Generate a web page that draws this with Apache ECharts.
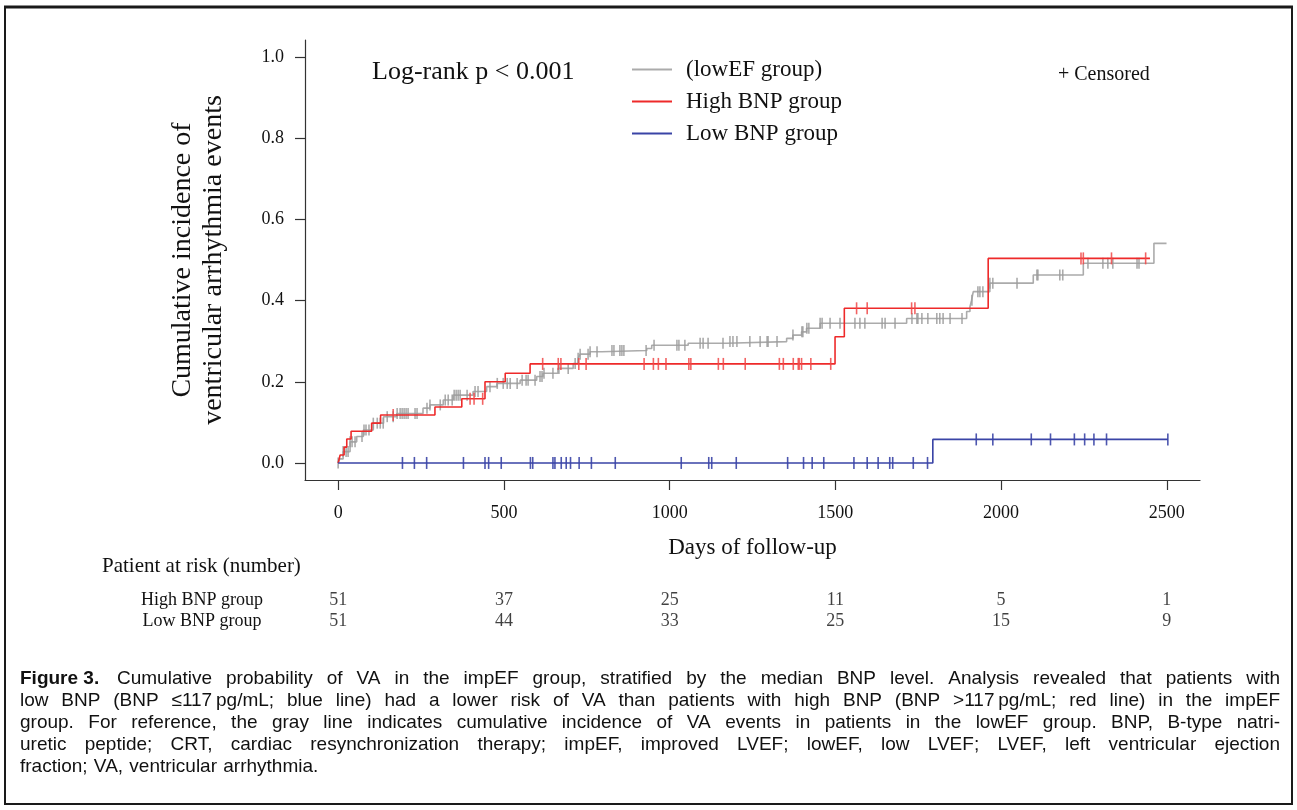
<!DOCTYPE html>
<html><head><meta charset="utf-8">
<script src="https://cdn.jsdelivr.net/npm/echarts@6/dist/echarts.min.js"></script>
<style>html,body{margin:0;padding:0;background:#fff}#c{width:1297px;height:810px}</style>
</head><body><div id="c"></div><script>
// ---------- data ----------
const xTicks = [0, 500, 1000, 1500, 2000, 2500];
const yTicks = [0, 0.2, 0.4, 0.6, 0.8, 1.0];
const seriesNames = ['(lowEF group)', 'High BNP group', 'Low BNP group'];

// lowEF group (gray) Kaplan-Meier cumulative incidence steps
const grayTimes  = [0,5,15,36,56,76,106,137,177,256,277,317,347,407,448,479,549,599,618,663,709,724,730,760,795,931,946,1056,1172,1353,1372,1398,1413,1454,1715,1896,1906,1911,1916,1966,2097,2248,2461,2499];
const grayValues = [0,0.01,0.028,0.052,0.065,0.081,0.098,0.114,0.122,0.135,0.143,0.155,0.167,0.176,0.188,0.196,0.204,0.213,0.221,0.233,0.245,0.258,0.268,0.274,0.277,0.282,0.29,0.295,0.299,0.307,0.315,0.323,0.332,0.344,0.356,0.373,0.385,0.401,0.422,0.443,0.463,0.492,0.541,0.541];
const grayCensor = [0,15,24,30,36,42,51,72,78,84,93,106,118,127,136,148,166,178,187,193,199,205,211,232,238,268,277,308,323,332,344,350,356,362,368,389,413,422,458,480,498,510,519,540,555,567,573,594,609,615,621,648,666,694,715,724,730,754,760,781,826,832,850,856,862,929,953,1022,1028,1046,1092,1101,1116,1161,1182,1191,1203,1242,1273,1294,1297,1324,1372,1399,1402,1414,1420,1454,1460,1484,1514,1559,1574,1589,1641,1650,1680,1731,1746,1749,1761,1779,1806,1815,1825,1846,1882,1912,1930,1936,1945,1966,1975,2048,2108,2111,2177,2186,2262,2307,2322,2337,2410,2416];

// High BNP group (red)
const redTimes  = [0,6,18,26,39,101,128,292,373,443,504,579,1499,1527,1961,2449];
const redValues = [0,0.0196,0.039,0.059,0.078,0.098,0.118,0.138,0.158,0.2,0.221,0.244,0.311,0.381,0.504,0.504];
const redCensor = [166,398,410,436,617,664,672,726,748,923,951,966,989,1058,1064,1147,1162,1228,1331,1343,1373,1388,1391,1398,1426,1486,1564,1596,1730,1740,2241,2248,2333,2436];

// Low BNP group (blue)
const blueTimes  = [0,1794,2503];
const blueValues = [0,0.058,0.058];
const blueCensor = [194,230,267,378,443,454,492,580,587,648,654,673,688,701,727,764,836,1035,1118,1127,1201,1356,1404,1430,1465,1556,1596,1629,1664,1673,1735,1778,1925,1975,2091,2149,2221,2252,2280,2318,2503];

// number at risk
const riskGroups = ['High BNP group', 'Low BNP group'];
const riskDays = [0, 500, 1000, 1500, 2000, 2500];
const riskHigh = [51, 37, 25, 11, 5, 1];
const riskLow  = [51, 44, 33, 25, 15, 9];

const captionLines = [
  'Cumulative probability of VA in the impEF group, stratified by the median BNP level. Analysis revealed that patients with',
  'low BNP (BNP \u2264117\u2009pg/mL; blue line) had a lower risk of VA than patients with high BNP (BNP >117\u2009pg/mL; red line) in the impEF',
  'group. For reference, the gray line indicates cumulative incidence of VA events in patients in the lowEF group. BNP, B-type natri-',
  'uretic peptide; CRT, cardiac resynchronization therapy; impEF, improved LVEF; lowEF, low LVEF; LVEF, left ventricular ejection',
  'fraction; VA, ventricular arrhythmia.'
];

// ---------- helpers ----------
const SERIF = 'Liberation Serif';
const CAPF = '"Liberation Sans", Arial, sans-serif';
const GRAY = '#ababab', RED = '#ee2a2a', BLUE = '#3a44a6';
function stepAt(times, vals, t) { let v = vals[0]; for (let i = 0; i < times.length; i++) { if (times[i] <= t) v = vals[i]; else break; } return v; }
const pairs = (t, v) => t.map((x, i) => [x, v[i]]);
const censorPts = (c, t, v) => c.map(d => [d, stepAt(t, v, d)]);

const chart = echarts.init(document.getElementById('c'), null, {renderer: 'canvas'});

// caption (justified word placement, last line left-aligned)
const mctx = document.createElement('canvas').getContext('2d');
function wordW(w, font) { mctx.font = font; return mctx.measureText(w).width; }
const capFont = '19px ' + CAPF;
const capBold = 'bold 19px ' + CAPF;
const capGraphics = [{type: 'text', x: 20, y: 679, style: {text: 'Figure 3.', font: capBold, fill: '#111', textVerticalAlign: 'middle'}}];
captionLines.forEach((line, i) => {
  const y = 679 + i * 22;
  const x0 = i === 0 ? 117 : 20, x1 = 1280;
  const words = line.split(' ');
  const ws = words.map(w => wordW(w, capFont));
  const total = ws.reduce((a, b) => a + b, 0);
  const justify = i < captionLines.length - 1;
  const gap = justify ? (x1 - x0 - total) / (words.length - 1) : wordW(' ', capFont) + 1;
  let x = x0;
  words.forEach((w, k) => {
    capGraphics.push({type: 'text', x: x, y: y, style: {text: w, font: capFont, fill: '#111', textVerticalAlign: 'middle'}});
    x += ws[k] + gap;
  });
});

const option = {
  animation: false,
  backgroundColor: '#fff',
  textStyle: {fontFamily: SERIF, color: '#111'},
  grid: [
    {left: 305, right: 97, top: 40, bottom: 330},
    {left: 305, right: 97, top: 589.5, height: 42}
  ],
  xAxis: [
    {
      type: 'value', gridIndex: 0, min: -100, max: 2600,
      axisLine: {show: true, onZero: false, lineStyle: {color: '#333', width: 1.2}},
      axisTick: {show: true, length: 10, customValues: xTicks, lineStyle: {color: '#333', width: 1.2}},
      axisLabel: {customValues: xTicks, margin: 24, fontFamily: SERIF, fontSize: 18, color: '#111', formatter: v => String(v)},
      splitLine: {show: false},
      name: 'Days of follow-up', nameLocation: 'middle', nameGap: 56,
      nameTextStyle: {fontFamily: SERIF, fontSize: 23, color: '#111'}
    },
    {type: 'value', gridIndex: 1, min: -100, max: 2600, show: false}
  ],
  yAxis: [
    {
      type: 'value', gridIndex: 0, min: -0.042, max: 1.042,
      axisLine: {show: true, onZero: false, lineStyle: {color: '#333', width: 1.2}},
      axisTick: {show: true, length: 10, customValues: yTicks, lineStyle: {color: '#333', width: 1.2}},
      axisLabel: {customValues: yTicks, margin: 21, fontFamily: SERIF, fontSize: 18, color: '#111',
        formatter: v => Number(v).toFixed(1)},
      splitLine: {show: false},
      name: 'Cumulative incidence of\nventricular arrhythmia events', nameLocation: 'middle', nameRotate: 90, nameGap: 76,
      nameTextStyle: {fontFamily: SERIF, fontSize: 28, lineHeight: 31, color: '#111', align: 'center'}
    },
    {
      type: 'category', gridIndex: 1, inverse: true, data: riskGroups,
      axisLine: {show: false}, axisTick: {show: false}, splitLine: {show: false},
      axisLabel: {interval: 0, margin: 103, align: 'center', fontFamily: SERIF, fontSize: 18, color: '#111'}
    }
  ],
  legend: {
    data: seriesNames, orient: 'vertical', left: 632, top: 58, padding: 0,
    itemWidth: 40, itemHeight: 2, icon: 'rect', itemGap: 9,
    textStyle: {fontFamily: SERIF, fontSize: 23, lineHeight: 23, color: '#111', padding: [0, 0, 0, 9]}
  },
  series: [
    {name: seriesNames[0], type: 'line', step: 'end', showSymbol: false, data: pairs(grayTimes, grayValues),
     color: GRAY, lineStyle: {color: GRAY, width: 1.6}, z: 2, silent: true},
    {name: 'gray censor', type: 'scatter', data: censorPts(grayCensor, grayTimes, grayValues),
     symbol: 'rect', symbolSize: [1.6, 11], itemStyle: {color: '#9c9c9c', opacity: 0.85}, z: 3, silent: true},
    {name: seriesNames[1], type: 'line', step: 'end', showSymbol: false, data: pairs(redTimes, redValues),
     color: RED, lineStyle: {color: RED, width: 1.6}, z: 4, silent: true},
    {name: 'red censor', type: 'scatter', data: censorPts(redCensor, redTimes, redValues),
     symbol: 'rect', symbolSize: [1.6, 12], itemStyle: {color: '#f04848', opacity: 0.85}, z: 5, silent: true},
    {name: seriesNames[2], type: 'line', step: 'end', showSymbol: false, data: pairs(blueTimes, blueValues),
     color: BLUE, lineStyle: {color: BLUE, width: 1.6}, z: 6, silent: true},
    {name: 'blue censor', type: 'scatter', data: censorPts(blueCensor, blueTimes, blueValues),
     symbol: 'rect', symbolSize: [1.6, 12], itemStyle: {color: BLUE, opacity: 0.9}, z: 7, silent: true},
    {name: 'risk high', type: 'scatter', xAxisIndex: 1, yAxisIndex: 1, symbolSize: 2, itemStyle: {color: 'rgba(0,0,0,0)'},
     data: riskDays.map((d, i) => [d, riskGroups[0], riskHigh[i]]),
     label: {show: true, position: 'inside', formatter: p => String(p.value[2]), fontFamily: SERIF, fontSize: 18, color: '#111'}, silent: true},
    {name: 'risk low', type: 'scatter', xAxisIndex: 1, yAxisIndex: 1, symbolSize: 2, itemStyle: {color: 'rgba(0,0,0,0)'},
     data: riskDays.map((d, i) => [d, riskGroups[1], riskLow[i]]),
     label: {show: true, position: 'inside', formatter: p => String(p.value[2]), fontFamily: SERIF, fontSize: 18, color: '#111'}, silent: true}
  ],
  graphic: [
    {type: 'rect', shape: {x: 5, y: 7, width: 1287, height: 797}, style: {fill: 'none', stroke: '#1a1a1a', lineWidth: 2}, silent: true},
    {type: 'line', shape: {x1: 4, y1: 7, x2: 1293, y2: 7}, style: {stroke: '#1a1a1a', lineWidth: 3}, silent: true},
    {type: 'text', x: 372, y: 72, style: {text: 'Log-rank p < 0.001', font: '26px ' + SERIF, fill: '#111', textVerticalAlign: 'middle'}},
    {type: 'text', x: 1058, y: 75, style: {text: '+ Censored', font: '20px ' + SERIF, fill: '#111', textVerticalAlign: 'middle'}},
    {type: 'text', x: 102, y: 566, style: {text: 'Patient at risk (number)', font: '21px ' + SERIF, fill: '#111', textVerticalAlign: 'middle'}}
  ].concat(capGraphics)
};
chart.setOption(option);
</script></body></html>
